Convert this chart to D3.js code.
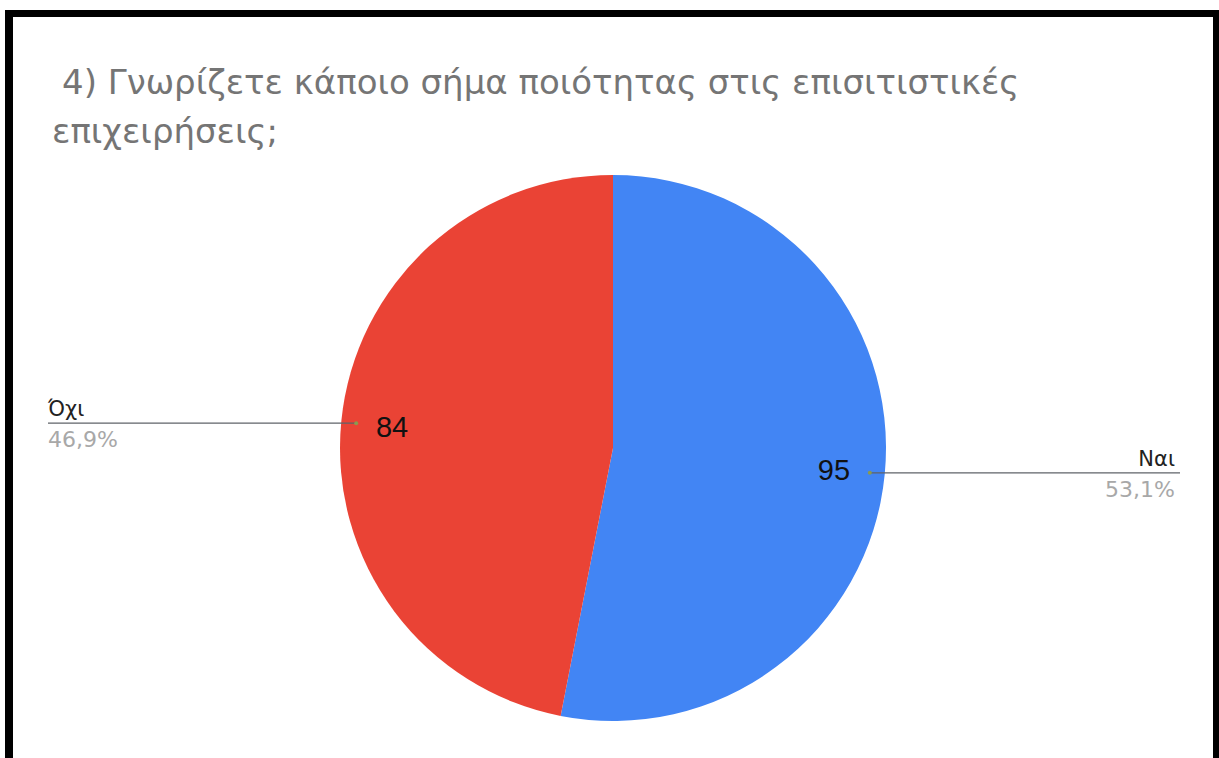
<!DOCTYPE html>
<html>
<head>
<meta charset="utf-8">
<script src="https://cdn.jsdelivr.net/npm/d3@7"></script>
<style>
  html, body { margin: 0; padding: 0; background: #fff; }
  svg { display: block; }
</style>
</head>
<body>
<svg id="chart" width="1219" height="758"></svg>
<script>
// Survey answers
const categories = ["Ναι", "Όχι"];
const values = [95, 84];
const colors = ["#4285f4", "#ea4335"];
const title = ["4) Γνωρίζετε κάποιο σήμα ποιότητας στις επισιτιστικές", "επιχειρήσεις;"];

const W = 1219, H = 758;
const svg = d3.select("#chart");

// Frame
svg.append("rect").attr("x", 0).attr("y", 0).attr("width", W).attr("height", H).attr("fill", "#fff");
const frame = svg.append("g").attr("fill", "#000");
frame.append("rect").attr("x", 5).attr("y", 10).attr("width", W - 5).attr("height", 7);
frame.append("rect").attr("x", 5).attr("y", 10).attr("width", 8).attr("height", H - 10);
frame.append("rect").attr("x", 1213).attr("y", 10).attr("width", 6).attr("height", H - 10);

// Title
const titleFont = "'DejaVu Sans', Verdana, sans-serif";
const titleText = svg.append("text")
  .attr("x", 62).attr("y", 94)
  .attr("font-family", titleFont)
  .attr("font-size", 34)
  .attr("fill", "#757575");
titleText.selectAll("tspan").data(title).join("tspan")
  .attr("x", (d, i) => i === 0 ? 62 : 52)
  .attr("dy", (d, i) => i === 0 ? 0 : 49)
  .text(d => d);

// Pie
const cx = 613, cy = 448, R = 273;
const total = d3.sum(values);
const data = categories.map((c, i) => ({ name: c, value: values[i], color: colors[i] }));
const pie = d3.pie().sort(null).value(d => d.value);
const arcs = pie(data);
const arc = d3.arc().innerRadius(0).outerRadius(R);

const g = svg.append("g").attr("transform", `translate(${cx},${cy})`);
g.selectAll("path.slice").data(arcs).join("path")
  .attr("class", "slice")
  .attr("d", arc)
  .attr("fill", d => d.data.color);

// Values inside slices
const valueArc = d3.arc().innerRadius(222).outerRadius(222);
g.selectAll("text.val").data(arcs).join("text")
  .attr("class", "val")
  .attr("transform", d => `translate(${valueArc.centroid(d)})`)
  .attr("text-anchor", "middle")
  .attr("dy", "0.36em")
  .attr("font-family", "'Liberation Sans', Arial, sans-serif")
  .attr("font-size", 29)
  .attr("fill", "#111")
  .text(d => d.data.value);

// Leader lines and outside labels
const dotArc = d3.arc().innerRadius(258).outerRadius(258);
const pctFmt = v => (v * 100).toFixed(1).replace(".", ",") + "%";
const labelFont = "'DejaVu Sans', Verdana, sans-serif";

arcs.forEach(d => {
  const [dx, dy] = dotArc.centroid(d);
  const mid = (d.startAngle + d.endAngle) / 2;
  const right = mid < Math.PI;
  const px = cx + dx, py = cy + dy;
  const endX = right ? 1180 : 48;
  svg.append("line")
    .attr("x1", px).attr("y1", py).attr("x2", endX).attr("y2", py)
    .attr("stroke", "#5f6368").attr("stroke-width", 1.3);
  svg.append("circle").attr("cx", px).attr("cy", py).attr("r", 2)
    .attr("fill", "#8a9a50");
  const tx = right ? 1175 : 48;
  const anchor = right ? "end" : "start";
  svg.append("text")
    .attr("x", tx).attr("y", py - 7)
    .attr("text-anchor", anchor)
    .attr("font-family", labelFont).attr("font-size", 21)
    .attr("fill", "#222")
    .text(d.data.name);
  svg.append("text")
    .attr("x", tx).attr("y", py + 24)
    .attr("text-anchor", anchor)
    .attr("font-family", labelFont).attr("font-size", 22)
    .attr("fill", "#a8a8a8")
    .text(pctFmt(d.data.value / total));
});
</script>
</body>
</html>
